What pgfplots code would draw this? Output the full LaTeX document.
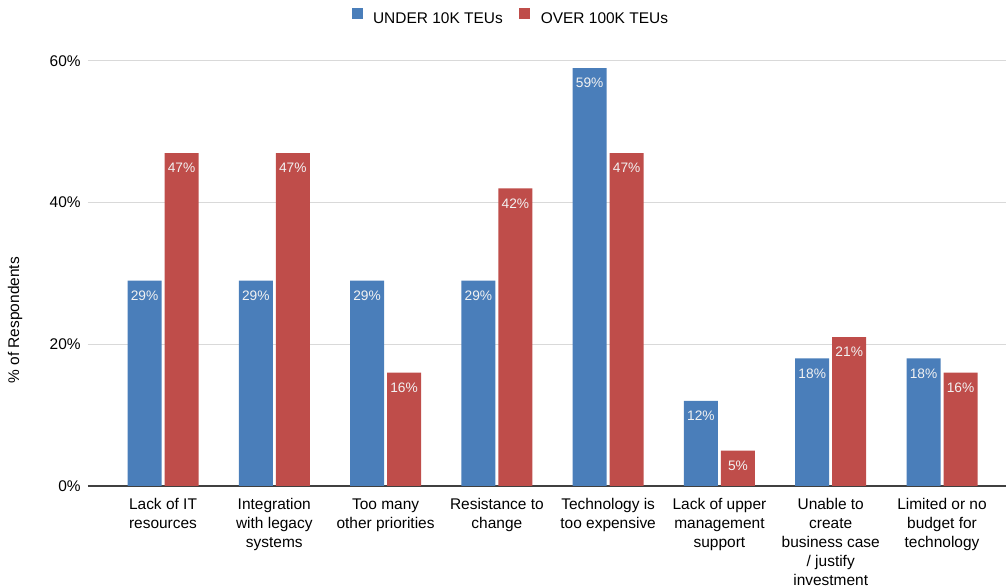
\documentclass[border=0pt]{standalone}
\usepackage{pgfplots}
\pgfplotsset{compat=1.18}
\usepackage{fontspec}
\setmainfont{Liberation Sans}

\definecolor{underblue}{HTML}{4A7EBA}
\definecolor{overred}{HTML}{BF4D4A}
\definecolor{gridgray}{HTML}{D9D9D9}
\definecolor{labelgray}{HTML}{F2F2F2}

\begin{document}
\begin{tikzpicture}
\begin{axis}[
    at={(0pt,0pt)}, anchor=south west,
    scale only axis,
    width=688.5pt, height=318.75pt,
    ybar=2.25pt,
    bar width=25.5pt,
    xmin=-0.674, xmax=7.575,
    ymin=0, ymax=60,
    xtick=data,
    xticklabels={
        Lack of IT\\resources,
        Integration\\with legacy\\systems,
        Too many\\other priorities,
        Resistance to\\change,
        Technology is\\too expensive,
        Lack of upper\\management\\support,
        Unable to\\create\\business case\\/ justify\\investment,
        Limited or no\\budget for\\technology},
    xticklabel style={align=center, font=\fontsize{11.6}{14.25}\selectfont, yshift=-6pt},
    ytick={20,40,60},
    yticklabels={20\%,40\%,60\%},
    extra y ticks={0},
    extra y tick labels={0\%},
    extra y tick style={grid style={draw=black!75, line width=0.9pt}},
    yticklabel style={font=\fontsize{11.6}{14}\selectfont, xshift=-2pt},
    ymajorgrids,
    grid style={draw=gridgray, line width=0.75pt},
    major tick length=0pt,
    axis line style={draw=none},
    ylabel={\% of Respondents},
    ylabel style={font=\fontsize{11.6}{14}\selectfont, at={(axis description cs:-0.0795,0.39)}, anchor=center},
    legend style={draw=none, at={(0.461,1.101)}, anchor=center,
        font=\fontsize{11.6}{14}\selectfont,
        /tikz/every even column/.append style={column sep=10.5pt}},
    legend columns=2,
    legend image code/.code={
        \fill[#1] (0pt,-0.3pt) rectangle (8.25pt,7.95pt);
        \path (14pt,3.8pt);},
    nodes near coords={\pgfmathprintnumber[assume math mode=true]{\pgfplotspointmeta}\%},
    every node near coord/.append style={anchor=north, yshift=-4pt, text=labelgray,
        font=\fontsize{10.3}{12}\selectfont},
    clip=false,
]
\addplot[fill=underblue, draw=none] coordinates {
    (0,29) (1,29) (2,29) (3,29) (4,59) (5,12) (6,18) (7,18)};
\addplot[fill=overred, draw=none] coordinates {
    (0,47) (1,47) (2,16) (3,42) (4,47) (5,5) (6,21) (7,16)};
\legend{UNDER 10K TEUs, OVER 100K TEUs}
\end{axis}
\pgfresetboundingbox
\path (-66pt,-76.5pt) rectangle (688.5pt,364.5pt);
\end{tikzpicture}
\end{document}
